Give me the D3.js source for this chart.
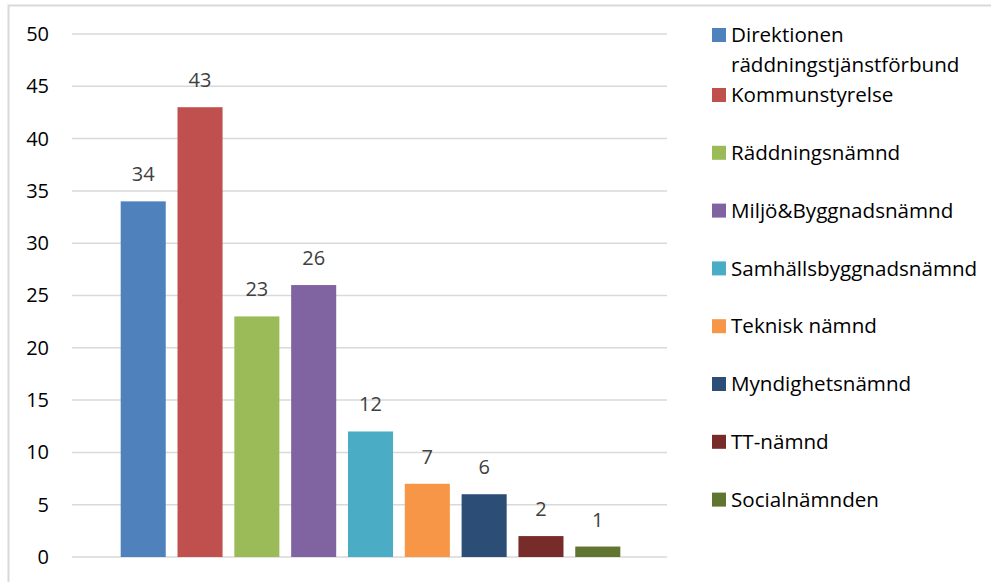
<!DOCTYPE html>
<html>
<head>
<meta charset="utf-8">
<script src="https://cdn.jsdelivr.net/npm/d3@7"></script>
<style>
  body { margin: 0; background: #fff; }
  svg { display: block; font-family: "Open Sans", Lato, sans-serif; }
</style>
</head>
<body>
<svg width="991" height="582"></svg>
<script>
// data
const seriesNames = [
  "Direktionen räddningstjänstförbund",
  "Kommunstyrelse",
  "Räddningsnämnd",
  "Miljö&Byggnadsnämnd",
  "Samhällsbyggnadsnämnd",
  "Teknisk nämnd",
  "Myndighetsnämnd",
  "TT-nämnd",
  "Socialnämnden"
];
const values = [34, 43, 23, 26, 12, 7, 6, 2, 1];
const colors = ["#4f81bd", "#c0504d", "#9bbb59", "#8064a2", "#4bacc6", "#f79646", "#2c4d75", "#772c2a", "#5f7530"];
const yTicks = [0, 5, 10, 15, 20, 25, 30, 35, 40, 45, 50];

const svg = d3.select("svg");

// chart border
svg.append("rect")
  .attr("x", 8.5).attr("y", 5.5)
  .attr("width", 1000).attr("height", 600)
  .attr("fill", "none")
  .attr("stroke", "#d9d9d9")
  .attr("stroke-width", 2);

const plot = { left: 72, right: 667, top: 34, bottom: 557 };

const y = d3.scaleLinear().domain([0, 50]).range([plot.bottom, plot.top]);
const x = d3.scaleBand()
  .domain(seriesNames)
  .range([115, 626])
  .paddingInner(0.207)
  .paddingOuter(0.1);

// gridlines
svg.append("g")
  .selectAll("line")
  .data(yTicks)
  .join("line")
  .attr("x1", plot.left).attr("x2", plot.right)
  .attr("y1", d => y(d)).attr("y2", d => y(d))
  .attr("stroke", "#d9d9d9")
  .attr("stroke-width", 1.5);

// y axis labels
const yAxis = d3.axisLeft(y).tickValues(yTicks).tickSize(0).tickPadding(0);
svg.append("g")
  .attr("transform", `translate(49,0)`)
  .call(yAxis)
  .call(g => g.select(".domain").remove())
  .selectAll("text")
  .attr("font-family", "'Open Sans', Lato, sans-serif")
  .attr("font-size", 20)
  .attr("fill", "#000");

// bars
svg.append("g")
  .selectAll("rect")
  .data(values)
  .join("rect")
  .attr("x", (d, i) => x(seriesNames[i]))
  .attr("width", x.bandwidth())
  .attr("y", d => y(d))
  .attr("height", d => y(0) - y(d))
  .attr("fill", (d, i) => colors[i]);

// value labels
svg.append("g")
  .selectAll("text")
  .data(values)
  .join("text")
  .attr("x", (d, i) => x(seriesNames[i]) + x.bandwidth() / 2)
  .attr("y", d => y(d) - 20)
  .attr("text-anchor", "middle")
  .attr("font-size", 20)
  .attr("fill", "#404040")
  .text(d => d);

// legend
const legendY = i => i === 0 ? 35 : 95 + (i - 1) * 57.8;
const legend = svg.append("g")
  .selectAll("g")
  .data(seriesNames)
  .join("g")
  .attr("transform", (d, i) => `translate(712,${legendY(i)})`);

legend.append("rect")
  .attr("x", 0).attr("y", -7)
  .attr("width", 14).attr("height", 14)
  .attr("fill", (d, i) => colors[i]);

legend.append("text")
  .attr("x", 19)
  .attr("dy", "0.35em")
  .attr("font-size", 20.6)
  .attr("fill", "#000")
  .each(function(d, i) {
    const t = d3.select(this);
    if (i === 0) {
      const parts = d.split(" ");
      t.append("tspan").attr("x", 19).text(parts[0]);
      t.append("tspan").attr("x", 19).attr("dy", 30).text(parts[1]);
    } else {
      t.text(d);
    }
  });
</script>
</body>
</html>
